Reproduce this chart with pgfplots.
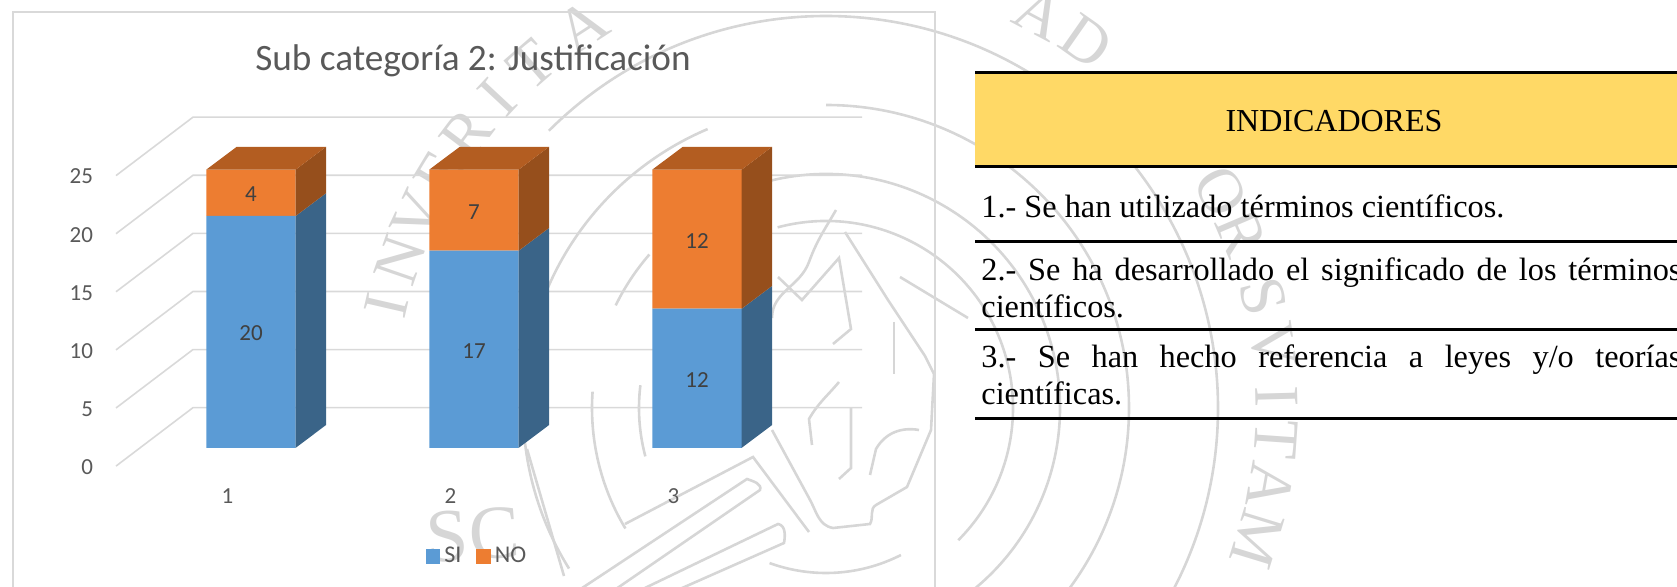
\documentclass[border=0pt]{standalone}
\usepackage{fontspec}
\setmainfont{Carlito}
\newfontfamily\serif{Liberation Serif}
\usepackage{pgfplots}
\pgfplotsset{compat=1.18}
\definecolor{sib}{HTML}{5B9BD5}
\definecolor{nob}{HTML}{ED7D31}
\definecolor{sisd}{HTML}{3A6488}
\definecolor{nosd}{HTML}{964F1C}
\definecolor{notp}{HTML}{B35D21}
\definecolor{wall}{HTML}{D9D9D9}
\definecolor{txt}{HTML}{595959}
\definecolor{lbl}{HTML}{404040}
\definecolor{wm}{HTML}{D6D6D6}
\definecolor{hdr}{HTML}{FFD966}
% seal arc: radius, from angle, to angle (angles as on a clock face flipped, y runs down)
\newcommand\warc[3]{\draw ({826+#1*cos(#2)},{408-#1*sin(#2)}) arc[start angle={-(#2)},end angle={-(#3)},radius=#1];}
% picture in reference pixels, origin top left
\begin{document}
\begin{tikzpicture}[x=0.5pt,y=-0.5pt]
\useasboundingbox (0,0) rectangle (1677,587);
\clip (0,0) rectangle (1677,587);

% watermark seal
\begin{scope}[draw=wm,line width=1.3pt]
\warc{392}{135}{-30}
\warc{383}{176}{172}
\warc{303}{90}{-60}
\warc{303}{113}{212}
\warc{234}{105}{-55}
\warc{234}{139}{154}
\warc{234}{176}{211}
\warc{187}{105}{-45}
\warc{187}{173}{195}
\warc{165}{-110}{-63}
% brush
\draw (625,524) -- (753,457) -- (809,532);
\draw (564,600) -- (747,479) to[out=-20,in=70] (760,490) -- (600,600);
\draw (620,600) -- (778,524) to[out=-10,in=80] (784,543) -- (655,600);
\draw (527,449) -- (564,576);
% flame
\draw (836,210) to[out=-120,in=70] (809,262) to[out=-110,in=90] (772,318);
\draw (772,430) -- (809,498) to[out=-60,in=170] (833,528) -- (870,524) to[out=60,in=-150] (876,505) -- (907,487) -- (931,430) -- (934,374) -- (925,356) -- (888,300) -- (845,232);
\draw (778,277) -- (802,300) -- (839,258) -- (851,329) -- (833,344);
\draw (900,277) -- (968,318);
\draw (894,322) -- (894,374);
\draw (839,382) to[out=-130,in=60] (809,419) -- (812,445);
\draw (851,408) -- (851,468) -- (839,479);
\draw (919,430) to[out=170,in=60] (876,449) -- (870,475);
\end{scope}
\foreach \c/\a in {I/167,N/161,V/155,E/149,R/143,I/137,T/131,A/123}
  \node[text=wm,rotate=\a-90,font=\serif\fontsize{32}{32}\selectfont] at ({830+455*cos(\a)},{408-455*sin(\a)}) {\c};
\foreach \c/\a in {A/62,D/55,O/29,R/23,S/14.5,V/8,I/1.5,T/-4,A/-10,M/-17}
  \node[text=wm,rotate=\a-90,font=\serif\fontsize{32}{32}\selectfont] at ({830+447*cos(\a)},{408-447*sin(\a)}) {\c};
\node[text=wm,rotate=3,font=\serif\fontsize{38}{38}\selectfont] at (473,535) {SC};

% chart frame
\draw[wall,line width=0.7pt] (13,12) rectangle (935,620);

% front plane: tick labels and walls
\begin{axis}[
    at={(58pt,-233.05pt)},anchor=south west,
    scale only axis,width=334.5pt,height=145.25pt,
    xmin=0.5,xmax=3.5,ymin=0,ymax=25,
    clip=false,
    axis line style={draw=none},
    tick style={draw=none},
    xtick={1,2,3},ytick={0,5,10,15,20,25},
    /pgf/number format/assume math mode=true,
    tick label style={font=\fontsize{11.5}{13}\selectfont,text=txt},
    yticklabel style={anchor=east,yshift=-0.5pt},
    yticklabel shift=8pt,
    xticklabel style={anchor=center},
    xticklabel shift=15pt,
]
\addplot[wall,line width=0.8pt,no markers] coordinates {(0.5,0) (0.8453,5.03) (3.8453,5.03)};
\addplot[wall,line width=0.8pt,no markers] coordinates {(0.5,5) (0.8453,10.03) (3.8453,10.03)};
\addplot[wall,line width=0.8pt,no markers] coordinates {(0.5,10) (0.8453,15.03) (3.8453,15.03)};
\addplot[wall,line width=0.8pt,no markers] coordinates {(0.5,15) (0.8453,20.03) (3.8453,20.03)};
\addplot[wall,line width=0.8pt,no markers] coordinates {(0.5,20) (0.8453,25.03) (3.8453,25.03)};
\addplot[wall,line width=0.8pt,no markers] coordinates {(0.5,25) (0.8453,30.03) (3.8453,30.03)};
\end{axis}

% front faces of the bars
\begin{axis}[
    at={(7pt,-223.9pt)},anchor=south west,
    scale only axis,width=460.5pt,height=144.9pt,
    xmin=-0.0628,xmax=4.067,ymin=0,ymax=25,
    clip=false,hide axis,
    ybar stacked,bar width=44.7pt,
    title={Sub categoría 2: Justificación},
    title style={at={(0.4984,1.293)},anchor=center,font=\fontsize{18.6}{22}\selectfont,text=txt},
    legend columns=2,
    legend style={at={(0.5038,-0.374)},anchor=center,draw=none,fill=none,
      font=\fontsize{12}{14}\selectfont,text=txt,
      /tikz/every even column/.append style={column sep=5.5pt}},
    legend image code/.code={\fill[#1] (0pt,-3.8pt) rectangle (7.2pt,3.8pt);},
]
\addplot[fill=sib,draw=none] coordinates {(1,20) (2,17) (3,12)};
\addplot[fill=nob,draw=none] coordinates {(1,4) (2,7) (3,12)};
\legend{SI,NO}
\end{axis}

% side and top faces, value labels
\begin{axis}[
    at={(7pt,-223.9pt)},anchor=south west,
    scale only axis,width=460.5pt,height=144.9pt,
    xmin=-0.0628,xmax=4.067,ymin=0,ymax=25,
    clip=false,hide axis,
]
\addplot[fill=sisd,draw=none,no markers] coordinates {(1.2004,0) (1.3363,1.964) (1.3363,21.964) (1.2004,20)} -- cycle;
\addplot[fill=nosd,draw=none,no markers] coordinates {(1.2004,20) (1.3363,21.964) (1.3363,25.964) (1.2004,24)} -- cycle;
\addplot[fill=notp,draw=none,no markers] coordinates {(0.7996,24) (1.2004,24) (1.3363,25.964) (0.9359,25.964)} -- cycle;
\addplot[fill=sisd,draw=none,no markers] coordinates {(2.2004,0) (2.3363,1.964) (2.3363,18.964) (2.2004,17)} -- cycle;
\addplot[fill=nosd,draw=none,no markers] coordinates {(2.2004,17) (2.3363,18.964) (2.3363,25.964) (2.2004,24)} -- cycle;
\addplot[fill=notp,draw=none,no markers] coordinates {(1.7996,24) (2.2004,24) (2.3363,25.964) (1.9359,25.964)} -- cycle;
\addplot[fill=sisd,draw=none,no markers] coordinates {(3.2004,0) (3.3363,1.964) (3.3363,13.964) (3.2004,12)} -- cycle;
\addplot[fill=nosd,draw=none,no markers] coordinates {(3.2004,12) (3.3363,13.964) (3.3363,25.964) (3.2004,24)} -- cycle;
\addplot[fill=notp,draw=none,no markers] coordinates {(2.7996,24) (3.2004,24) (3.3363,25.964) (2.9359,25.964)} -- cycle;
\addplot[only marks,mark=none,
    point meta=explicit symbolic,
    nodes near coords,
    nodes near coords style={anchor=center,yshift=-0.8pt,font=\fontsize{11.5}{13}\selectfont,text=lbl},
] table[meta=v] {
x y v
1 10 20
1 22 4
2 8.5 17
2 20.5 7
3 6 12
3 18 12
};
\end{axis}

% indicators table
\fill[hdr] (975,73) rectangle (1677,167);
\foreach \y in {72.7,167,241.5,329.5,418.2}
  \draw[black,line width=1.5pt] (975,\y) -- (1677,\y);
\begin{scope}[every node/.style={anchor=base west,inner sep=0pt,
    font=\serif\fontsize{16.15}{18.35}\selectfont}]
\node[anchor=base,font=\serif\fontsize{16}{18}\selectfont] at (1334,132) {INDICADORES};
\node at (981,218) {\parbox[t]{350pt}{\hyphenpenalty=10000 1.- Se han utilizado términos científicos.}};
\node at (981,281) {\parbox[t]{350pt}{\hyphenpenalty=10000 2.- Se ha desarrollado el significado de los términos científicos.}};
\node at (981,368) {\parbox[t]{350pt}{\hyphenpenalty=10000 3.- Se han hecho referencia a leyes y/o teorías científicas.}};
\end{scope}
\end{tikzpicture}
\end{document}
